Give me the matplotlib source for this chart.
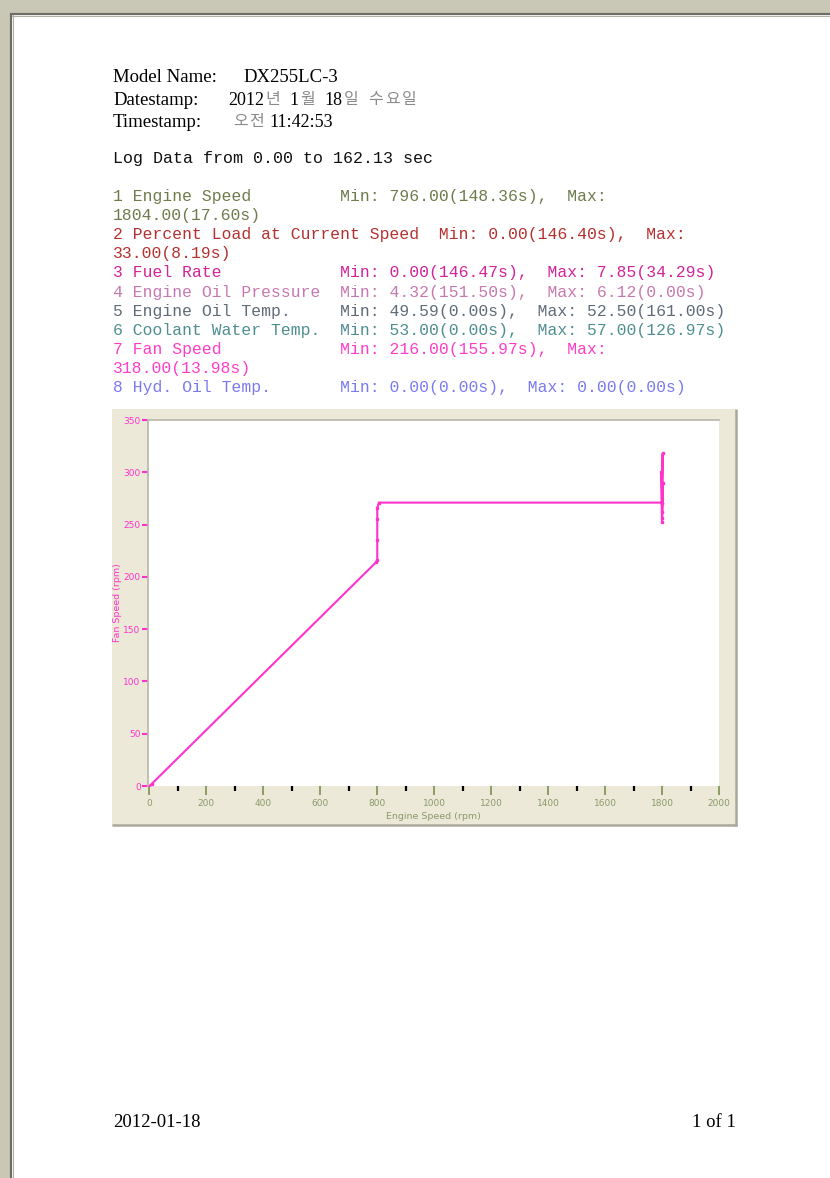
import numpy as np
import matplotlib
matplotlib.use("Agg")
import matplotlib.pyplot as plt
from matplotlib.patches import Rectangle
from matplotlib.ticker import MultipleLocator

# header info
model_name = "DX255LC-3"
date_parts = ["2012", "년", "1", "월", "18", "일", "수", "요", "일"]
date_gaps = [0, 1, 10, 1, 10, 1, 10, 2, 2]   # px before each piece
time_parts = ["오", "전", "11:42:53"]
time_gaps = [0, 1, 6]
log_line = "Log Data from 0.00 to 162.13 sec"

# channel summary lines (already wrapped like the report)
stat_lines = [
    "1 Engine Speed         Min: 796.00(148.36s),  Max:",
    "1804.00(17.60s)",
    "2 Percent Load at Current Speed  Min: 0.00(146.40s),  Max:",
    "33.00(8.19s)",
    "3 Fuel Rate            Min: 0.00(146.47s),  Max: 7.85(34.29s)",
    "4 Engine Oil Pressure  Min: 4.32(151.50s),  Max: 6.12(0.00s)",
    "5 Engine Oil Temp.     Min: 49.59(0.00s),  Max: 52.50(161.00s)",
    "6 Coolant Water Temp.  Min: 53.00(0.00s),  Max: 57.00(126.97s)",
    "7 Fan Speed            Min: 216.00(155.97s),  Max:",
    "318.00(13.98s)",
    "8 Hyd. Oil Temp.       Min: 0.00(0.00s),  Max: 0.00(0.00s)",
]
stat_colors = ["#6E7B4B", "#6E7B4B", "#B5302F", "#B5302F", "#D4229A", "#C878B0",
               "#5F6B78", "#4F8E90", "#FF3DC8", "#FF3DC8", "#7B7BF0"]

# fan speed vs engine speed log
engine_speed = [0, 8, 796, 800, 800, 800, 800, 806, 1800, 1802, 1800,
                1798, 1800, 1802, 1800, 1800]
fan_speed = [0, 2, 214, 216, 235, 255, 266, 271, 271, 318, 256,
             300, 252, 290, 262, 271]

x_ticks = np.arange(0, 2001, 200)
y_ticks = np.arange(0, 351, 50)

W, H = 830, 1178
fig = plt.figure(figsize=(W / 100, H / 100), dpi=100)
fig.patch.set_facecolor("#C9C7B5")

bg = fig.add_axes([0, 0, 1, 1])
bg.set_xlim(0, W)
bg.set_ylim(H, 0)
bg.axis("off")

# page
bg.add_patch(Rectangle((11, 14), W, H, facecolor="white", edgecolor="none"))
bg.plot([11, 11], [13, H], color="#6E6E66", lw=1.6, solid_capstyle="butt")
bg.plot([10, W], [14, 14], color="#6E6E66", lw=1.6, solid_capstyle="butt")
bg.plot([12.6, 12.6], [15, H], color="#B4B2A6", lw=0.8)
bg.plot([12, W], [15.6, 15.6], color="#B4B2A6", lw=0.8)

serif = "Liberation Serif"
mono = "Liberation Mono"
kr = "Noto Sans CJK KR"
fs_serif = 13.5
renderer = fig.canvas.get_renderer()


def put_parts(parts, gaps, x, y):
    # digits in serif, hangul in a light grey sans, laid out one after another
    for s, g in zip(parts, gaps):
        x += g
        if s[0].isdigit():
            t = bg.text(x, y, s, family=serif, fontsize=13, va="baseline")
        else:
            t = bg.text(x, y - 1, s, family=kr, fontsize=11.5, va="baseline",
                        color="#8A8A8A")
        x += t.get_window_extent(renderer).width


bg.text(113, 82, "Model Name:", family=serif, fontsize=fs_serif, va="baseline")
bg.text(243, 82, model_name, family=serif, fontsize=fs_serif, va="baseline")
bg.text(113, 105, "Datestamp:", family=serif, fontsize=fs_serif, va="baseline")
put_parts(date_parts, date_gaps, 228, 105)
bg.text(113, 127, "Timestamp:", family=serif, fontsize=fs_serif, va="baseline")
put_parts(time_parts, time_gaps, 233, 127)

bg.text(113, 163, log_line, family=mono, fontsize=12, va="baseline", color="#111111")
for i, (s, c) in enumerate(zip(stat_lines, stat_colors)):
    bg.text(113, 201 + 19.1 * i, s, family=mono, fontsize=11.75, va="baseline", color=c)

# footer
bg.text(113, 1127, "2012-01-18", family=serif, fontsize=fs_serif, va="baseline")
bg.text(736, 1127, "1 of 1", family=serif, fontsize=fs_serif, va="baseline", ha="right")

# chart panel
bg.add_patch(Rectangle((112, 409), 624, 417, facecolor="#ECE9D8", edgecolor="none"))
bg.plot([735.5, 735.5], [409, 826], color="#ACA899", lw=1.8, solid_capstyle="butt")
bg.plot([112, 737], [825, 825], color="#ACA899", lw=1.8, solid_capstyle="butt")

left, right, top, bottom = 148, 719, 420, 786
ax = fig.add_axes([left / W, 1 - bottom / H, (right - left) / W, (bottom - top) / H])
ax.set_facecolor("white")
ax.plot(engine_speed, fan_speed, color="#FF33CC", lw=1.5, marker="s", markersize=2,
        solid_joinstyle="miter")
ax.set_xlim(-5, 2000)
ax.set_ylim(0, 350)

for side in ["right", "bottom"]:
    ax.spines[side].set_visible(False)
for side in ["left", "top"]:
    ax.spines[side].set_color("#B8B6A8")
    ax.spines[side].set_linewidth(1.2)

green = "#7A8F50"
pink = "#FF33CC"
ax.set_xticks(x_ticks)
ax.set_yticks(y_ticks)
ax.xaxis.set_minor_locator(MultipleLocator(100))
ax.tick_params(axis="y", direction="out", length=4.3, width=1.5, color=pink,
               labelcolor=pink, labelsize=6.5, pad=1)
ax.tick_params(axis="x", which="major", direction="out", length=6.5, width=1.2,
               color=green, labelcolor="#8A9A6A", labelsize=6.5, pad=2.5)
ax.tick_params(axis="x", which="minor", direction="out", length=3.6, width=1.6,
               color="black")
ax.set_ylabel("Fan Speed (rpm)", color=pink, fontsize=6.8, labelpad=1)
ax.set_xlabel("Engine Speed (rpm)", color="#8A9A6A", fontsize=6.8, labelpad=3)

fig.savefig("out.png", dpi=100, facecolor=fig.get_facecolor())
